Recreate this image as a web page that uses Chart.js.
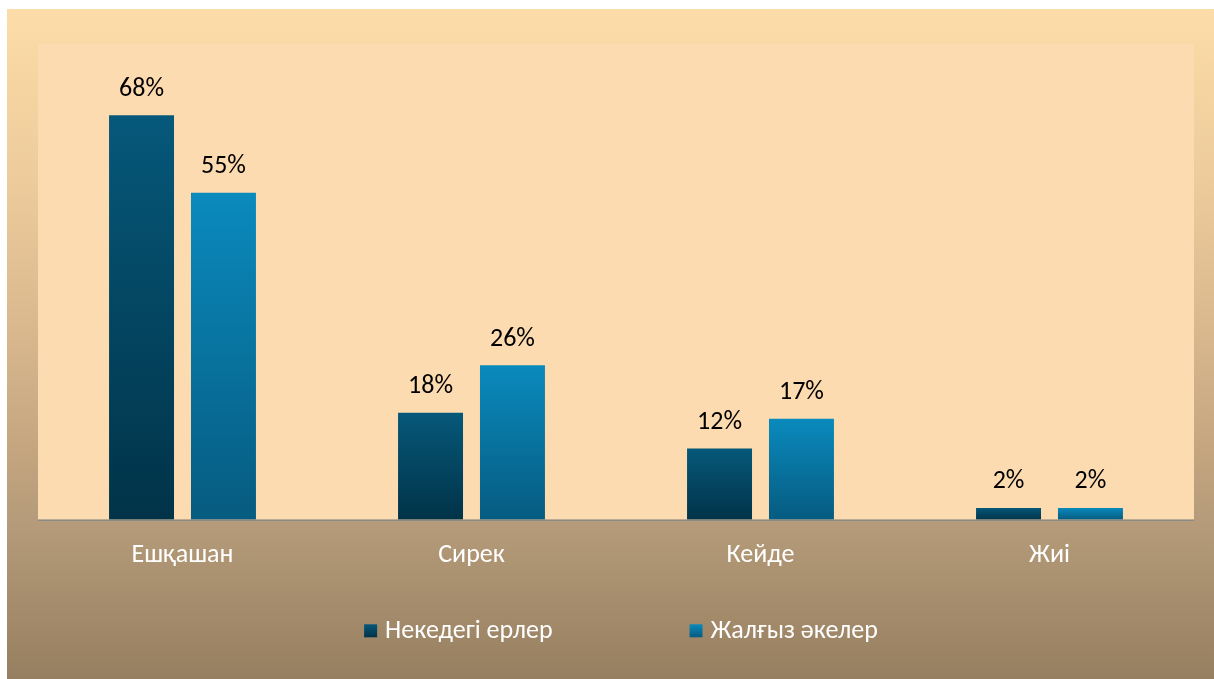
<!DOCTYPE html>
<html>
<head>
<meta charset="utf-8">
<script src="https://cdn.jsdelivr.net/npm/chart.js@4"></script>
<style>
  html, body { margin: 0; padding: 0; background: #fff; }
  #wrap {
    position: absolute; left: 7px; top: 9px; width: 1207px; height: 670px;
    background: linear-gradient(to bottom, #fcdca8 0%, #edcb9b 25.5%, #d9b88e 48%, #c4a57f 66%, #b69c7a 76%, #967f60 100%);
  }
</style>
</head>
<body>
<div id="wrap"><canvas id="chart" width="1207" height="670"></canvas></div>
<script>
const categories = ['Ешқашан', 'Сирек', 'Кейде', 'Жиі'];
const seriesNames = ['Некедегі ерлер', 'Жалғыз әкелер'];
const married = [68, 18, 12, 2];
const single = [55, 26, 17, 2];

const FONT = 'Carlito, Lato, "Noto Sans", sans-serif';
const FONT_SIZE = 26;
const topColors = ['#06587a', '#0a8abd'];
const bottomColors = ['#013348', '#065b80'];

function vGradient(ctx, y0, y1, i) {
    const g = ctx.createLinearGradient(0, y0, 0, y1);
    g.addColorStop(0, topColors[i]);
    g.addColorStop(1, bottomColors[i]);
    return g;
}

// plot area fill + axis line
const plotBg = {
    id: 'plotBg',
    beforeDatasetsDraw(chart) {
        const { ctx, chartArea: a } = chart;
        ctx.save();
        ctx.fillStyle = '#fddbb0';
        ctx.fillRect(a.left, a.top, a.right - a.left, a.bottom - a.top);
        ctx.restore();
    },
    afterDatasetsDraw(chart) {
        const { ctx, chartArea: a } = chart;
        ctx.save();
        ctx.strokeStyle = '#8c8a86';
        ctx.lineWidth = 1.5;
        ctx.beginPath();
        ctx.moveTo(a.left, a.bottom + 0.5);
        ctx.lineTo(a.right, a.bottom + 0.5);
        ctx.stroke();
        ctx.restore();
    }
};

// vertical gradient on each bar (options objects are shared, so copy them)
const barGradient = {
    id: 'barGradient',
    beforeDatasetDraw(chart, args) {
        const i = args.index;
        args.meta.data.forEach(el => {
            el.options = Object.assign({}, el.options, {
                backgroundColor: vGradient(chart.ctx, el.y, el.base, i)
            });
        });
    }
};

// percentage labels above bars
const valueLabels = {
    id: 'valueLabels',
    afterDatasetsDraw(chart) {
        const ctx = chart.ctx;
        ctx.save();
        ctx.fillStyle = '#000';
        ctx.font = FONT_SIZE + 'px ' + FONT;
        ctx.textAlign = 'center';
        ctx.textBaseline = 'middle';
        chart.data.datasets.forEach((ds, i) => {
            chart.getDatasetMeta(i).data.forEach((el, j) => {
                ctx.fillText(ds.data[j] + '%', el.x, el.y - 26);
            });
        });
        ctx.restore();
    }
};

// legend drawn below the axis, with wide spacing between items
const bottomLegend = {
    id: 'bottomLegend',
    afterDraw(chart) {
        const { ctx, chartArea: a } = chart;
        const box = 13, gap = 8, spacing = 137;
        ctx.save();
        ctx.font = FONT_SIZE + 'px ' + FONT;
        const widths = seriesNames.map(t => ctx.measureText(t).width);
        const total = widths.reduce((s, w) => s + box + gap + w, 0) + spacing;
        let x = (a.left + a.right) / 2 + 5 - total / 2;
        const y = a.bottom + 111;
        ctx.textBaseline = 'middle';
        ctx.textAlign = 'left';
        seriesNames.forEach((name, i) => {
            ctx.fillStyle = vGradient(ctx, y - box / 2, y + box / 2, i);
            ctx.fillRect(x, y - box / 2, box, box);
            ctx.fillStyle = '#fff';
            ctx.fillText(name, x + box + gap, y + 1);
            x += box + gap + widths[i] + spacing;
        });
        ctx.restore();
    }
};

new Chart(document.getElementById('chart'), {
    type: 'bar',
    data: {
        labels: categories,
        datasets: [
            { label: seriesNames[0], data: married, backgroundColor: '#03415c', borderWidth: 0 },
            { label: seriesNames[1], data: single, backgroundColor: '#0872a0', borderWidth: 0 }
        ]
    },
    options: {
        responsive: false,
        animation: false,
        categoryPercentage: 0.567,
        barPercentage: 0.793,
        layout: { padding: { left: 31, right: 20, top: 35, bottom: 88 } },
        scales: {
            x: {
                grid: { display: false, drawTicks: false },
                border: { display: false },
                ticks: { color: '#fff', font: { family: FONT, size: FONT_SIZE }, padding: 20 }
            },
            y: {
                display: false,
                min: 0,
                max: 80
            }
        },
        plugins: {
            legend: { display: false },
            tooltip: { enabled: false }
        }
    },
    plugins: [plotBg, barGradient, valueLabels, bottomLegend]
});
</script>
</body>
</html>
